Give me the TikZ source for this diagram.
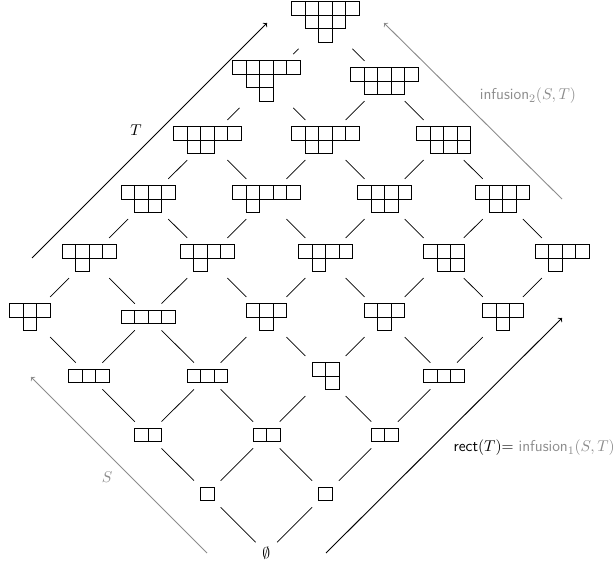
\documentclass[tikz,border=0pt]{standalone}
\usetikzlibrary{calc}
\definecolor{lg}{gray}{0.55}
\newcommand\yshp[5]{%
  \node[shapebox, minimum width=#3*9.45pt, minimum height=#4*9.45pt] (n#1#2) at ({30+59.1*(#1-#2+5)},{22+59*(#1+#2)}) {};
  \foreach \len [count=\r from 0] in {#5}{%
    \foreach \c in {1,...,\len}{%
      \draw[cell] ([shift={({(\r+\c-1)*13.5},{\r*13.5})}]n#1#2.north west) rectangle ++(13.5,13.5);
    }%
  }%
}
\begin{document}
\begin{tikzpicture}[x=0.7pt,y=-0.7pt,
  shapebox/.style={inner sep=0pt, outer sep=0pt, draw=none},
  cell/.style={draw=black, line width=0.55pt},
  edge/.style={draw=black, line width=0.5pt, shorten >=6.5pt, shorten <=6.5pt},
  bigarrow/.style={->, line width=0.65pt},
  lbl/.style={font=\fontsize{11}{13}\selectfont}]
\useasboundingbox (0,0) rectangle (616,565);
% shapes: u, v, ncols, nrows, row lengths
\yshp{0}{0}{5}{3}{5,3,1}
\yshp{0}{1}{5}{3}{5,2,1}
\yshp{1}{0}{5}{2}{5,3}
\yshp{0}{2}{5}{2}{5,2}
\yshp{1}{1}{5}{2}{5,2}
\yshp{2}{0}{4}{2}{4,3}
\yshp{0}{3}{4}{2}{4,2}
\yshp{1}{2}{5}{2}{5,1}
\yshp{2}{1}{4}{2}{4,2}
\yshp{3}{0}{4}{2}{4,2}
\yshp{0}{4}{4}{2}{4,1}
\yshp{1}{3}{4}{2}{4,1}
\yshp{2}{2}{4}{2}{4,1}
\yshp{3}{1}{3}{2}{3,2}
\yshp{4}{0}{4}{2}{4,1}
\yshp{0}{5}{3}{2}{3,1}
\yshp{1}{4}{4}{1}{4}
\yshp{2}{3}{3}{2}{3,1}
\yshp{3}{2}{3}{2}{3,1}
\yshp{4}{1}{3}{2}{3,1}
\yshp{1}{5}{3}{1}{3}
\yshp{2}{4}{3}{1}{3}
\yshp{3}{3}{2}{2}{2,1}
\yshp{4}{2}{3}{1}{3}
\yshp{2}{5}{2}{1}{2}
\yshp{3}{4}{2}{1}{2}
\yshp{4}{3}{2}{1}{2}
\yshp{3}{5}{1}{1}{1}
\yshp{4}{4}{1}{1}{1}
\node[inner sep=0pt, lbl] (n45) at ({30+59.1*4},{22+59*9}) {$\emptyset$};
% edges
\foreach \u in {0,...,3}{\foreach \v in {0,...,5}{%
  \pgfmathtruncatemacro\uu{\u+1}%
  \draw[edge] (n\u\v) -- (n\uu\v);}}
\foreach \u in {0,...,4}{\foreach \v in {0,...,4}{%
  \pgfmathtruncatemacro\vv{\v+1}%
  \draw[edge] (n\u\v) -- (n\u\vv);}}
% long arrows
\coordinate (tA) at (32,258); \coordinate (tB) at (267,23);
\draw[bigarrow] (tA) -- (tB);
\node[lbl] (tl) at (136,130) {$T$};
\coordinate (iA) at (562,199); \coordinate (iB) at (384,23);
\draw[bigarrow, lg] (iA) -- (iB);
\node[lg, lbl] (il) at (528,96) {\textsf{infusion}$_2(S,T)$};
\coordinate (sA) at (207,553); \coordinate (sB) at (31,377);
\draw[bigarrow, lg] (sA) -- (sB);
\node[lg, lbl] (sl) at (107,477) {$S$};
\coordinate (rA) at (326,553); \coordinate (rB) at (562,318);
\draw[bigarrow] (rA) -- (rB);
\node[anchor=east, inner sep=0pt, lbl] (rl) at (615,448) {\textsf{rect}$(T)$= \textcolor{lg}{\textsf{infusion}$_1(S,T)$}};
\end{tikzpicture}
\end{document}
